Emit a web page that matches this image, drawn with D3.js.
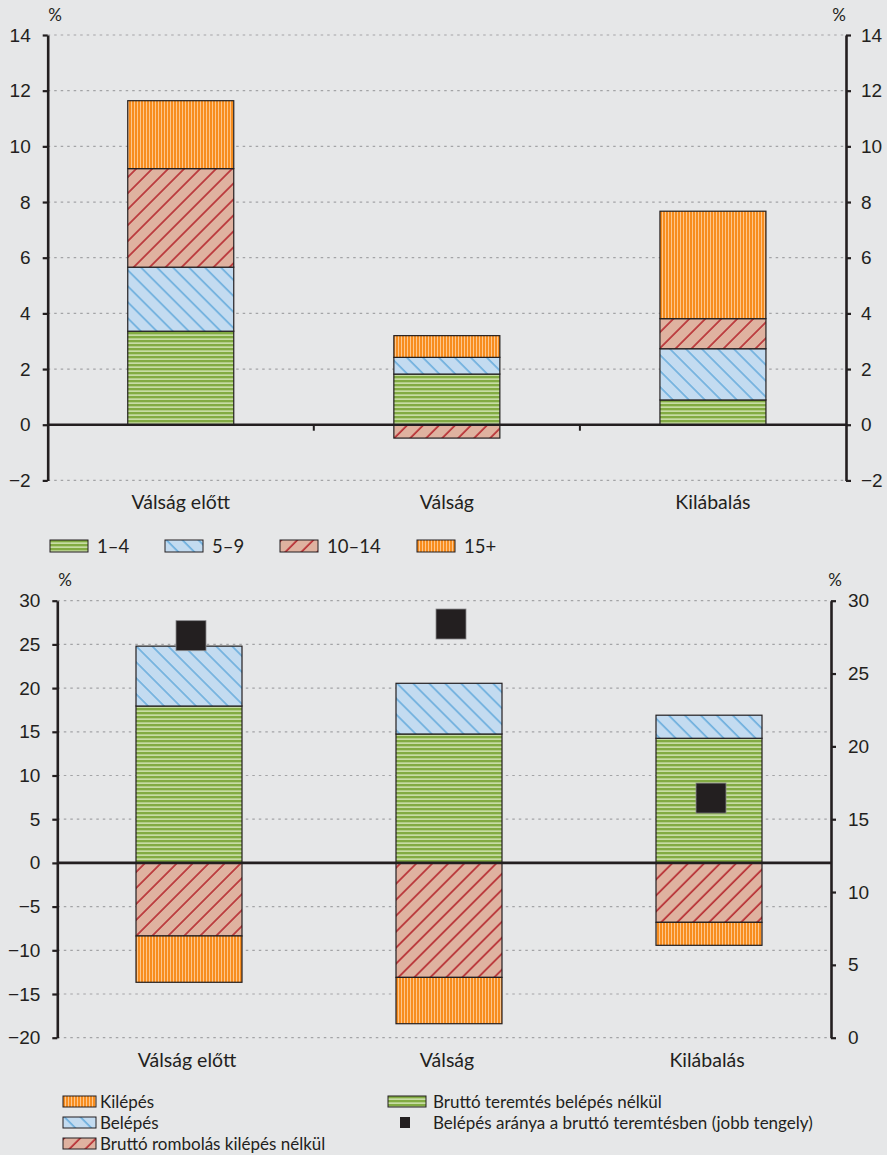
<!DOCTYPE html>
<html>
<head>
<meta charset="utf-8">
<script src="https://cdn.jsdelivr.net/npm/d3@7"></script>
<style>
  body { margin: 0; background: #e6e7e8; }
  svg { display: block; font-family: Lato, "Open Sans", sans-serif; }
</style>
</head>
<body>
<div id="chart"></div>
<script>
// categories
var categories = ["Válság előtt", "Válság", "Kilábalás"];

// upper chart: by size group (%)
var topKeys = ["1–4", "5–9", "10–14", "15+"];
var size1_4 = [3.36, 1.82, 0.89];
var size5_9 = [2.3, 0.6, 1.84];
var size10_14 = [3.54, -0.48, 1.08];
var size15 = [2.44, 0.78, 3.86];
var topTicks = [-2, 0, 2, 4, 6, 8, 10, 12, 14];

// lower chart (%)
var bottomKeys = ["Bruttó teremtés belépés nélkül", "Belépés", "Bruttó rombolás kilépés nélkül", "Kilépés"];
var teremtes = [17.95, 14.75, 14.26];
var belepes = [6.85, 5.8, 2.64];
var rombolas = [-8.36, -13.1, -6.8];
var kilepes = [-5.3, -5.3, -2.63];
var belepesArany = [27.6, 28.4, 16.45];
var bottomTicksL = [-20, -15, -10, -5, 0, 5, 10, 15, 20, 25, 30];
var bottomTicksR = [0, 5, 10, 15, 20, 25, 30];

var W = 887, H = 1155;
var ink = "#231f20";

var svg = d3.select("#chart").append("svg")
    .attr("width", W)
    .attr("height", H);

svg.append("rect").attr("width", W).attr("height", H).attr("fill", "#e6e7e8");

// patterns
var defs = svg.append("defs");

var pg = defs.append("pattern").attr("id", "pGreen")
    .attr("patternUnits", "userSpaceOnUse").attr("width", 8).attr("height", 4);
pg.append("rect").attr("width", 8).attr("height", 4).attr("fill", "#c7dca4");
pg.append("rect").attr("width", 8).attr("height", 2.3).attr("fill", "#82ab42");

var po = defs.append("pattern").attr("id", "pOrange")
    .attr("patternUnits", "userSpaceOnUse").attr("width", 3).attr("height", 8);
po.append("rect").attr("width", 3).attr("height", 8).attr("fill", "#fdc68c");
po.append("rect").attr("width", 2).attr("height", 8).attr("fill", "#f78d1f");

function hatch(id, bg, line, angle) {
    var p = defs.append("pattern").attr("id", id)
        .attr("patternUnits", "userSpaceOnUse")
        .attr("width", 11.3).attr("height", 11.3)
        .attr("patternTransform", "rotate(" + angle + ")");
    p.append("rect").attr("width", 11.3).attr("height", 11.3).attr("fill", bg);
    p.append("line").attr("x1", 1).attr("x2", 1).attr("y1", 0).attr("y2", 11.3)
        .attr("stroke", line).attr("stroke-width", 1.6);
}
hatch("pBlue", "#c3dbf0", "#6aaddd", -45);
hatch("pRed", "#dfb2a0", "#b5282e", 45);

var topFill = {"1–4": "url(#pGreen)", "5–9": "url(#pBlue)", "10–14": "url(#pRed)", "15+": "url(#pOrange)"};
var bottomFill = {
    "Bruttó teremtés belépés nélkül": "url(#pGreen)",
    "Belépés": "url(#pBlue)",
    "Bruttó rombolás kilépés nélkül": "url(#pRed)",
    "Kilépés": "url(#pOrange)"
};

function drawGrid(g, y, ticks, x0, x1) {
    g.selectAll("line.grid")
        .data(ticks.filter(function (t) { return t !== 0; }))
        .enter()
        .append("line")
        .attr("class", "grid")
        .attr("x1", x0).attr("x2", x1)
        .attr("y1", function (d) { return y(d); })
        .attr("y2", function (d) { return y(d); })
        .attr("stroke", "#a3a4a6")
        .attr("stroke-width", 1.2)
        .attr("stroke-dasharray", "2.5,4");
}

function styleAxis(sel) {
    sel.select(".domain").attr("stroke", ink).attr("stroke-width", 2.6);
    sel.selectAll(".tick line").attr("stroke", ink).attr("stroke-width", 2.2);
    sel.selectAll(".tick text").attr("font-size", 19).attr("fill", ink);
}

var fmt = function (d) { return d < 0 ? "−" + Math.abs(d) : d; };

// ---------- upper chart ----------
var topRows = categories.map(function (c, i) {
    return {cat: c, "1–4": size1_4[i], "5–9": size5_9[i], "10–14": size10_14[i], "15+": size15[i]};
});

var xTop = d3.scaleBand().domain(categories).range([47.7, 846]);
var yTop = d3.scaleLinear().domain([-2, 14]).range([480.4, 35]);
var barW = 106;

var gTop = svg.append("g");
drawGrid(gTop, yTop, topTicks, 47.7, 846);

var topStack = d3.stack().keys(topKeys).offset(d3.stackOffsetDiverging)(topRows);

gTop.selectAll("g.layer")
    .data(topStack)
    .enter()
    .append("g")
    .attr("fill", function (d) { return topFill[d.key]; })
    .selectAll("rect")
    .data(function (d) { return d; })
    .enter()
    .append("rect")
    .attr("x", function (d) { return xTop(d.data.cat) + xTop.bandwidth() / 2 - barW / 2; })
    .attr("y", function (d) { return yTop(Math.max(d[0], d[1])); })
    .attr("width", barW)
    .attr("height", function (d) { return Math.abs(yTop(d[0]) - yTop(d[1])); })
    .attr("stroke", ink)
    .attr("stroke-width", 1.2);

// zero line + separators
gTop.append("line")
    .attr("x1", 47.7).attr("x2", 846)
    .attr("y1", yTop(0)).attr("y2", yTop(0))
    .attr("stroke", ink).attr("stroke-width", 2.6);
gTop.selectAll("line.sep")
    .data(categories.slice(1))
    .enter()
    .append("line")
    .attr("x1", function (d) { return xTop(d); })
    .attr("x2", function (d) { return xTop(d); })
    .attr("y1", yTop(0)).attr("y2", yTop(0) + 6)
    .attr("stroke", ink).attr("stroke-width", 2);

var axL = gTop.append("g").attr("transform", "translate(47.7,0)")
    .call(d3.axisLeft(yTop).tickValues(topTicks).tickSize(5).tickPadding(12)
        .tickSizeOuter(0).tickFormat(fmt));
styleAxis(axL);
var axR = gTop.append("g").attr("transform", "translate(846,0)")
    .call(d3.axisRight(yTop).tickValues(topTicks).tickSize(5).tickPadding(10)
        .tickSizeOuter(0).tickFormat(fmt));
styleAxis(axR);

gTop.append("text").attr("x", 55).attr("y", 21).attr("text-anchor", "middle")
    .attr("font-size", 17).attr("fill", ink).text("%");
gTop.append("text").attr("x", 839).attr("y", 21).attr("text-anchor", "middle")
    .attr("font-size", 17).attr("fill", ink).text("%");

gTop.selectAll("text.cat")
    .data(categories)
    .enter()
    .append("text")
    .attr("class", "cat")
    .attr("x", function (d) { return xTop(d) + xTop.bandwidth() / 2; })
    .attr("y", 509)
    .attr("text-anchor", "middle")
    .attr("font-size", 19.5)
    .attr("fill", ink)
    .text(function (d) { return d; });

// upper legend
var legTopX = [50, 165, 280, 417];
var legTop = svg.append("g").selectAll("g")
    .data(topKeys)
    .enter()
    .append("g")
    .attr("transform", function (d, i) { return "translate(" + legTopX[i] + ",540)"; });
legTop.append("rect").attr("width", 38).attr("height", 12)
    .attr("fill", function (d) { return topFill[d]; })
    .attr("stroke", ink).attr("stroke-width", 1);
legTop.append("text").attr("x", 47).attr("y", 12.5)
    .attr("font-size", 18.5).attr("fill", ink)
    .text(function (d) { return d; });

// ---------- lower chart ----------
var bottomRows = categories.map(function (c, i) {
    return {
        cat: c,
        "Bruttó teremtés belépés nélkül": teremtes[i],
        "Belépés": belepes[i],
        "Bruttó rombolás kilépés nélkül": rombolas[i],
        "Kilépés": kilepes[i],
        arany: belepesArany[i]
    };
});

var bL = 57.3, bR = 831;
var xBot = d3.scaleBand().domain(categories).range([59, 839]);
var yBot = d3.scaleLinear().domain([-20, 30]).range([1037.7, 600.7]);
var yBotR = d3.scaleLinear().domain([0, 30]).range([1037.7, 600.7]);

var gBot = svg.append("g");
drawGrid(gBot, yBot, bottomTicksL, bL, bR);

var botStack = d3.stack().keys(bottomKeys).offset(d3.stackOffsetDiverging)(bottomRows);

gBot.selectAll("g.layer")
    .data(botStack)
    .enter()
    .append("g")
    .attr("fill", function (d) { return bottomFill[d.key]; })
    .selectAll("rect")
    .data(function (d) { return d; })
    .enter()
    .append("rect")
    .attr("x", function (d) { return xBot(d.data.cat) + xBot.bandwidth() / 2 - barW / 2; })
    .attr("y", function (d) { return yBot(Math.max(d[0], d[1])); })
    .attr("width", barW)
    .attr("height", function (d) { return Math.abs(yBot(d[0]) - yBot(d[1])); })
    .attr("stroke", ink)
    .attr("stroke-width", 1.2);

gBot.append("line")
    .attr("x1", bL).attr("x2", bR)
    .attr("y1", yBot(0)).attr("y2", yBot(0))
    .attr("stroke", ink).attr("stroke-width", 2.6);

// squares (right axis)
var sq = 30;
gBot.selectAll("rect.sq")
    .data(bottomRows)
    .enter()
    .append("rect")
    .attr("class", "sq")
    .attr("x", function (d) { return xBot(d.cat) + xBot.bandwidth() / 2 - sq / 2 + 2; })
    .attr("y", function (d) { return yBotR(d.arany) - sq / 2; })
    .attr("width", sq)
    .attr("height", sq)
    .attr("fill", ink)
    .attr("stroke", "#8a8a8c")
    .attr("stroke-width", 0.8);

var bAxL = gBot.append("g").attr("transform", "translate(" + bL + ",0)")
    .call(d3.axisLeft(yBot).tickValues(bottomTicksL).tickSize(5).tickPadding(12)
        .tickSizeOuter(0).tickFormat(fmt));
styleAxis(bAxL);
var bAxR = gBot.append("g").attr("transform", "translate(" + bR + ",0)")
    .call(d3.axisRight(yBotR).tickValues(bottomTicksR).tickSize(5).tickPadding(12)
        .tickSizeOuter(0).tickFormat(fmt));
styleAxis(bAxR);

gBot.append("text").attr("x", 65).attr("y", 586).attr("text-anchor", "middle")
    .attr("font-size", 17).attr("fill", ink).text("%");
gBot.append("text").attr("x", 835).attr("y", 586).attr("text-anchor", "middle")
    .attr("font-size", 17).attr("fill", ink).text("%");

gBot.selectAll("text.cat")
    .data(categories)
    .enter()
    .append("text")
    .attr("class", "cat")
    .attr("x", function (d) { return xBot(d) + xBot.bandwidth() / 2 - 2; })
    .attr("y", 1067)
    .attr("text-anchor", "middle")
    .attr("font-size", 19.5)
    .attr("fill", ink)
    .text(function (d) { return d; });

// lower legend
var legBot = [
    {key: "Kilépés", x: 63, y: 1096},
    {key: "Belépés", x: 63, y: 1117},
    {key: "Bruttó rombolás kilépés nélkül", x: 63, y: 1138},
    {key: "Bruttó teremtés belépés nélkül", x: 388, y: 1096}
];
var lb = svg.append("g").selectAll("g")
    .data(legBot)
    .enter()
    .append("g")
    .attr("transform", function (d) { return "translate(" + d.x + "," + d.y + ")"; });
lb.append("rect").attr("width", function (d) { return d.x > 100 ? 38 : 33; }).attr("height", 11)
    .attr("fill", function (d) { return bottomFill[d.key]; })
    .attr("stroke", ink).attr("stroke-width", 1);
lb.append("text").attr("x", function (d) { return d.x > 100 ? 45 : 37; }).attr("y", 12)
    .attr("font-size", 17).attr("fill", ink)
    .text(function (d) { return d.key; });

var lsq = svg.append("g").attr("transform", "translate(400,1117)");
lsq.append("rect").attr("width", 10).attr("height", 11).attr("fill", ink);
lsq.append("text").attr("x", 33).attr("y", 12).attr("font-size", 17).attr("fill", ink)
    .text("Belépés aránya a bruttó teremtésben (jobb tengely)");
</script>
</body>
</html>
